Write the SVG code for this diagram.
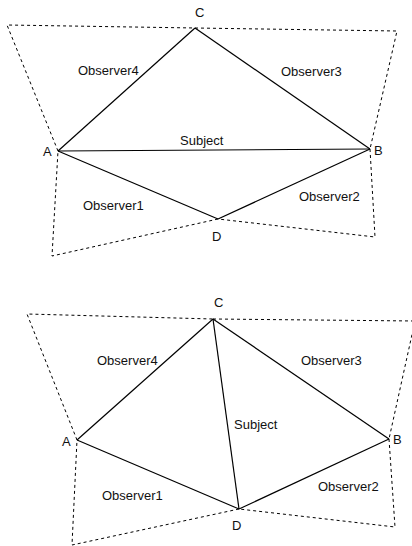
<svg xmlns="http://www.w3.org/2000/svg" width="412" height="546" viewBox="0 0 412 546">
<style>
.obs{fill:none;stroke:#000;stroke-width:1;stroke-dasharray:3 3}
.edge{fill:none;stroke:#000;stroke-width:1.2}
text{font-family:"Liberation Sans",Arial,sans-serif;font-size:13px;fill:#111}
</style>
<rect width="412" height="546" fill="#fff"/>
<g id="top">
  <g id="connectors-top">
    <polyline class="obs" points="58,151 7,25 195,28"/>
    <polyline class="obs" points="195,28 397,31 370,149"/>
    <polyline class="obs" points="370,149 375,237 218,219"/>
    <polyline class="obs" points="218,219 52,256 58,151"/>
    <line class="edge" x1="58" y1="151" x2="195" y2="28"/>
    <line class="edge" x1="195" y1="28" x2="370" y2="149"/>
    <line class="edge" x1="58" y1="151" x2="370" y2="149"/>
    <line class="edge" x1="58" y1="151" x2="218" y2="219"/>
    <line class="edge" x1="218" y1="219" x2="370" y2="149"/>
  </g>
  <g id="top-A"><text x="43" y="156">A</text></g>
  <g id="top-B"><text x="374" y="155">B</text></g>
  <g id="top-C"><text x="195" y="17">C</text></g>
  <g id="top-D"><text x="212" y="241">D</text></g>
  <g id="top-obs4"><text x="78" y="75">Observer4</text></g>
  <g id="top-obs3"><text x="281" y="76">Observer3</text></g>
  <g id="top-subject"><text x="180" y="145">Subject</text></g>
  <g id="top-obs1"><text x="83" y="210">Observer1</text></g>
  <g id="top-obs2"><text x="299" y="201">Observer2</text></g>
</g>
<g id="bottom">
  <g id="connectors-bottom">
    <polyline class="obs" points="77,440 27,314 213,319"/>
    <polyline class="obs" points="213,319 415,321 389,439"/>
    <polyline class="obs" points="389,439 395,527 239,509"/>
    <polyline class="obs" points="239,509 72,545 77,440"/>
    <line class="edge" x1="77" y1="440" x2="213" y2="319"/>
    <line class="edge" x1="213" y1="319" x2="389" y2="439"/>
    <line class="edge" x1="213" y1="319" x2="239" y2="509"/>
    <line class="edge" x1="77" y1="440" x2="239" y2="509"/>
    <line class="edge" x1="239" y1="509" x2="389" y2="439"/>
  </g>
  <g id="bot-A"><text x="62" y="446">A</text></g>
  <g id="bot-B"><text x="393" y="444">B</text></g>
  <g id="bot-C"><text x="214" y="307">C</text></g>
  <g id="bot-D"><text x="232" y="530">D</text></g>
  <g id="bot-obs4"><text x="97" y="365">Observer4</text></g>
  <g id="bot-obs3"><text x="301" y="365">Observer3</text></g>
  <g id="bot-subject"><text x="234" y="429">Subject</text></g>
  <g id="bot-obs1"><text x="102" y="500">Observer1</text></g>
  <g id="bot-obs2"><text x="318" y="491">Observer2</text></g>
</g>
</svg>
